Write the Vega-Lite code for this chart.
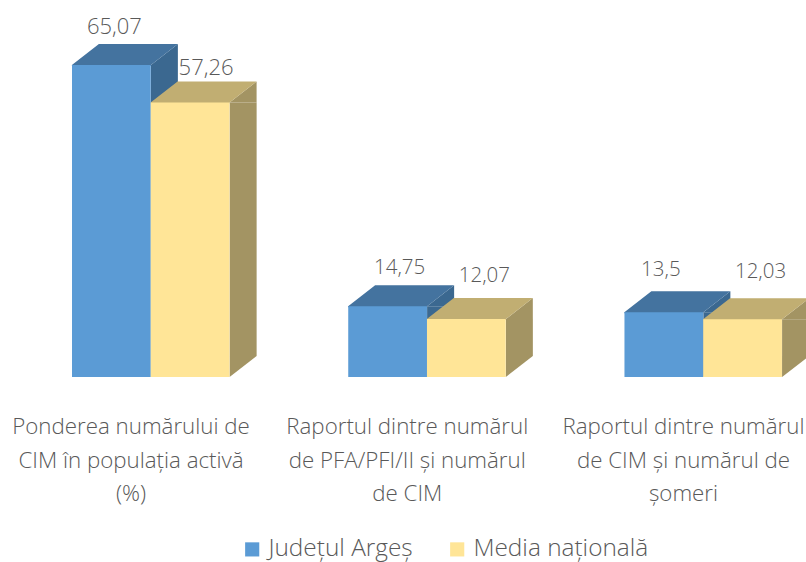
{
"$schema":"https://vega.github.io/schema/vega-lite/v6.json",
"width":806,"height":562,"autosize":"none","padding":0,"background":"white",
"datasets":{"d":[
{"cat":"A","s":"Județul Argeș","v":65.07,"t":"65,07"},
{"cat":"A","s":"Media națională","v":57.26,"t":"57,26"},
{"cat":"B","s":"Județul Argeș","v":14.75,"t":"14,75"},
{"cat":"B","s":"Media națională","v":12.07,"t":"12,07"},
{"cat":"C","s":"Județul Argeș","v":13.5,"t":"13,5"},
{"cat":"C","s":"Media națională","v":12.03,"t":"12,03"}]},
"data":{"name":"d"},
"resolve":{"scale":{"xOffset":"independent"}},
"encoding":{
"x":{"field":"cat","type":"nominal","scale":{"domain":["A","B","C"],"range":[-7.1,821.6],"paddingInner":0,"paddingOuter":0},
"axis":{"title":null,"domain":false,"ticks":false,"offset":-185,"labelAngle":0,"labelPadding":38.5,"labelFont":"Open Sans","labelFontWeight":300,"labelFontSize":22.3,"labelColor":"#595959","labelLineHeight":33.5,"labelLimit":0,"labelBaseline":"top",
"labelExpr":"datum.label=='A'?['Ponderea numărului de','CIM în populația activă','(%)']:datum.label=='B'?['Raportul dintre numărul','de PFA/PFI/II și numărul','de CIM']:['Raportul dintre numărul','de CIM și numărul de','șomeri']"}},
"xOffset":{"field":"s","type":"nominal","scale":{"domain":["Județul Argeș","Media națională"],"range":[118.5,197.2],"padding":0}},
"y":{"field":"v","type":"quantitative","scale":{"domain":[0,78.62],"nice":false,"range":[377,0]},"axis":null}
},
"layer":[
{"mark":{"type":"rule","strokeWidth":27,"y2Offset":-21},
 "encoding":{"xOffset":{"field":"s","type":"nominal","scale":{"range":[132.1,289.6],"paddingInner":0,"paddingOuter":0}},"y2":{"datum":0},"color":{"condition":{"test":"datum.s=='Media națională'","value":"#A39463"},"value":"#3B6890"}}},
{"mark":{"type":"point","filled":true,"size":4,"opacity":1,"strokeWidth":0,"shape":"M39.5,0L66.5,-21L66.5,0Z"},
 "encoding":{"color":{"condition":{"test":"datum.s=='Media națională'","value":"#A39463"},"value":"#3B6890"}}},
{"mark":{"type":"point","filled":true,"size":4,"opacity":1,"strokeWidth":0,"shape":"M39.5,0L39.5,-21L66.5,-21Z"},
 "encoding":{"y":{"datum":0},"color":{"condition":{"test":"datum.s=='Media națională'","value":"#A39463"},"value":"#3B6890"}}},
{"mark":{"type":"point","filled":true,"size":4,"opacity":1,"strokeWidth":0,"shape":"M-39.5,1L39.5,1L39.5,0L66.5,-21L-12.5,-21L-39.5,0Z"},
 "encoding":{"color":{"condition":{"test":"datum.s=='Media națională'","value":"#C1AE72"},"value":"#44739F"}}},
{"mark":{"type":"bar"},
 "encoding":{"xOffset":{"field":"s","type":"nominal","scale":{"range":[79.1,236.6],"paddingInner":0,"paddingOuter":0}},"y2":{"datum":0},"color":{"field":"s","type":"nominal","title":null,"scale":{"domain":["Județul Argeș","Media națională"],"range":["#5B9BD5","#FFE597"]},
 "legend":{"orient":"none","legendX":240,"legendY":537,"direction":"horizontal","columns":2,"symbolType":"square","symbolSize":200,"symbolStrokeWidth":0,"labelFont":"Open Sans","labelFontWeight":300,"labelFontSize":24.4,"labelColor":"#595959","columnPadding":32,"labelOffset":4,"labelLimit":0}}}},
{"transform":[{"filter":"datum.t=='65,07'"}],"mark":{"type":"text","font":"Open Sans","fontWeight":300,"fontSize":22,"color":"#595959","dx":3,"dy":-38},"encoding":{"text":{"field":"t"}}},
{"transform":[{"filter":"datum.t=='57,26'"}],"mark":{"type":"text","font":"Open Sans","fontWeight":300,"fontSize":22,"color":"#595959","dx":16,"dy":-34},"encoding":{"text":{"field":"t"}}},
{"transform":[{"filter":"datum.t=='14,75'"}],"mark":{"type":"text","font":"Open Sans","fontWeight":300,"fontSize":20.5,"color":"#595959","dx":12,"dy":-38},"encoding":{"text":{"field":"t"}}},
{"transform":[{"filter":"datum.t=='12,07'"}],"mark":{"type":"text","font":"Open Sans","fontWeight":300,"fontSize":20.5,"color":"#595959","dx":18,"dy":-43},"encoding":{"text":{"field":"t"}}},
{"transform":[{"filter":"datum.t=='13,5'"}],"mark":{"type":"text","font":"Open Sans","fontWeight":300,"fontSize":20.5,"color":"#595959","dx":-3,"dy":-42},"encoding":{"text":{"field":"t"}}},
{"transform":[{"filter":"datum.t=='12,03'"}],"mark":{"type":"text","font":"Open Sans","fontWeight":300,"fontSize":20.5,"color":"#595959","dx":18,"dy":-47},"encoding":{"text":{"field":"t"}}}
],
"config":{"view":{"stroke":null}}
}
